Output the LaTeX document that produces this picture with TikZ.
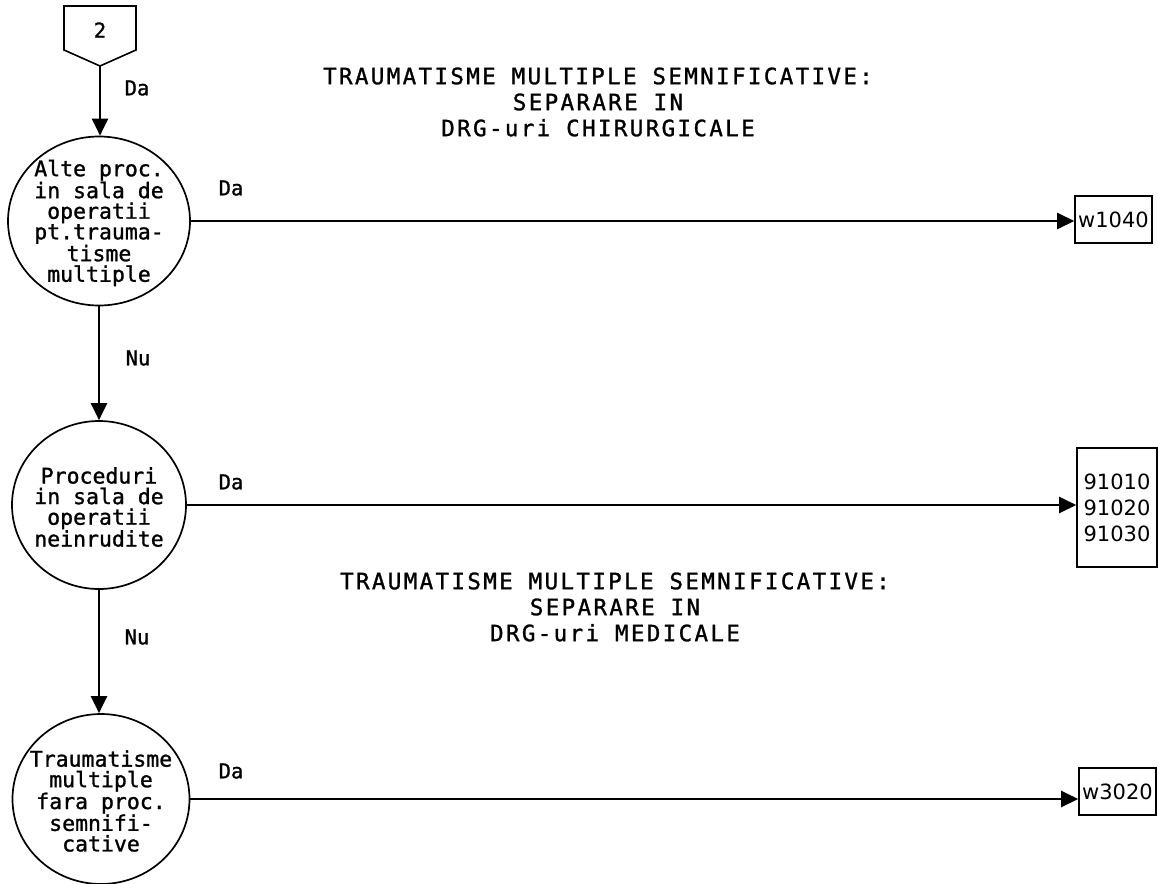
\documentclass[tikz,border=0pt]{standalone}
\usepackage{fontspec}
\setmonofont[FakeBold=1.2]{DejaVu Sans Mono}
\setsansfont{DejaVu Sans}
\newfontfamily\titlefam[LetterSpace=10.5,FakeBold=1.2]{DejaVu Sans Mono}
\usetikzlibrary{shapes.geometric,arrows.meta}
\newcommand{\circfont}{\fontsize{21.5}{20.6}\selectfont\ttfamily}
\newcommand{\lblfont}{\fontsize{20.5}{22}\selectfont\ttfamily}
\newcommand{\codefont}{\fontsize{21}{26}\selectfont\sffamily}
\newcommand{\ttlfont}{\fontsize{22.5}{26}\selectfont\titlefam}
\begin{document}
\begin{tikzpicture}[x=1pt,y=-1pt,
  conn/.style={line width=2.3pt,-{Triangle[length=17pt,width=16pt]}},
  decision/.style={ellipse,draw,line width=1.7pt,inner sep=0pt,minimum width=180pt,minimum height=169pt},
  dtext/.style={inner sep=0pt,align=center,font=\circfont},
  codebox/.style={draw,line width=1.6pt,inner sep=0pt,align=center,font=\codefont},
  lbl/.style={inner sep=0pt,font=\lblfont},
  ttl/.style={inner sep=0pt,align=center,font=\ttlfont}]
\useasboundingbox (0,0) rectangle (1158,883);
% off-page connector
\draw[line width=1.6pt] (64,6) -- (136,6) -- (136,50) -- (100,66) -- (64,50) -- cycle;
\node[lbl] (p2) at (100,30) {2};
\coordinate (ptip) at (100,66);
% decisions
\node[decision,minimum width=182pt] (c1) at (99,221) {};
\node[dtext] (c1t) at (99,223) {Alte proc.\\in sala de\\operatii\\pt.trauma-\\tisme\\multiple};
\node[decision,minimum width=174pt,minimum height=168pt] (c2) at (99,505) {};
\node[dtext] (c2t) at (99,507) {Proceduri\\in sala de\\operatii\\neinrudite};
\node[decision,minimum width=177pt,minimum height=170pt] (c3) at (101,799) {};
\node[dtext] (c3t) at (101,801) {Traumatisme\\multiple\\fara proc.\\semnifi-\\cative};
% codes
\node[codebox,minimum width=77pt,minimum height=47pt] (k1) at (1113.5,219.5) {w1040};
\node[codebox,minimum width=80pt,minimum height=119pt] (k2) at (1117,507.5) {91010\\91020\\91030};
\node[codebox,minimum width=77pt,minimum height=47pt] (k3) at (1117.5,791.5) {w3020};
% titles
\node[ttl] (t1) at (598,102) {TRAUMATISME MULTIPLE SEMNIFICATIVE:\\SEPARARE IN\\DRG-uri CHIRURGICALE};
\node[ttl] (t2) at (615,607) {TRAUMATISME MULTIPLE SEMNIFICATIVE:\\SEPARARE IN\\DRG-uri MEDICALE};
% connectors
\draw[conn] (ptip) -- (ptip |- c1.north);
\draw[conn] (c1.south) -- (c2.north);
\draw[conn] (c2.south) -- (c2.south |- c3.north);
\draw[conn] (c1.east) -- (c1.east -| k1.west);
\draw[conn] (c2.east) -- (c2.east -| k2.west);
\draw[conn] (c3.east) -- (c3.east -| k3.west);
% labels
\node[lbl] (l1) at (137,88) {Da};
\node[lbl] (l2) at (138,358) {Nu};
\node[lbl] (l3) at (137,637) {Nu};
\node[lbl] (l4) at (231,188) {Da};
\node[lbl] (l5) at (231,482) {Da};
\node[lbl] (l6) at (231,771) {Da};
\end{tikzpicture}
\end{document}
